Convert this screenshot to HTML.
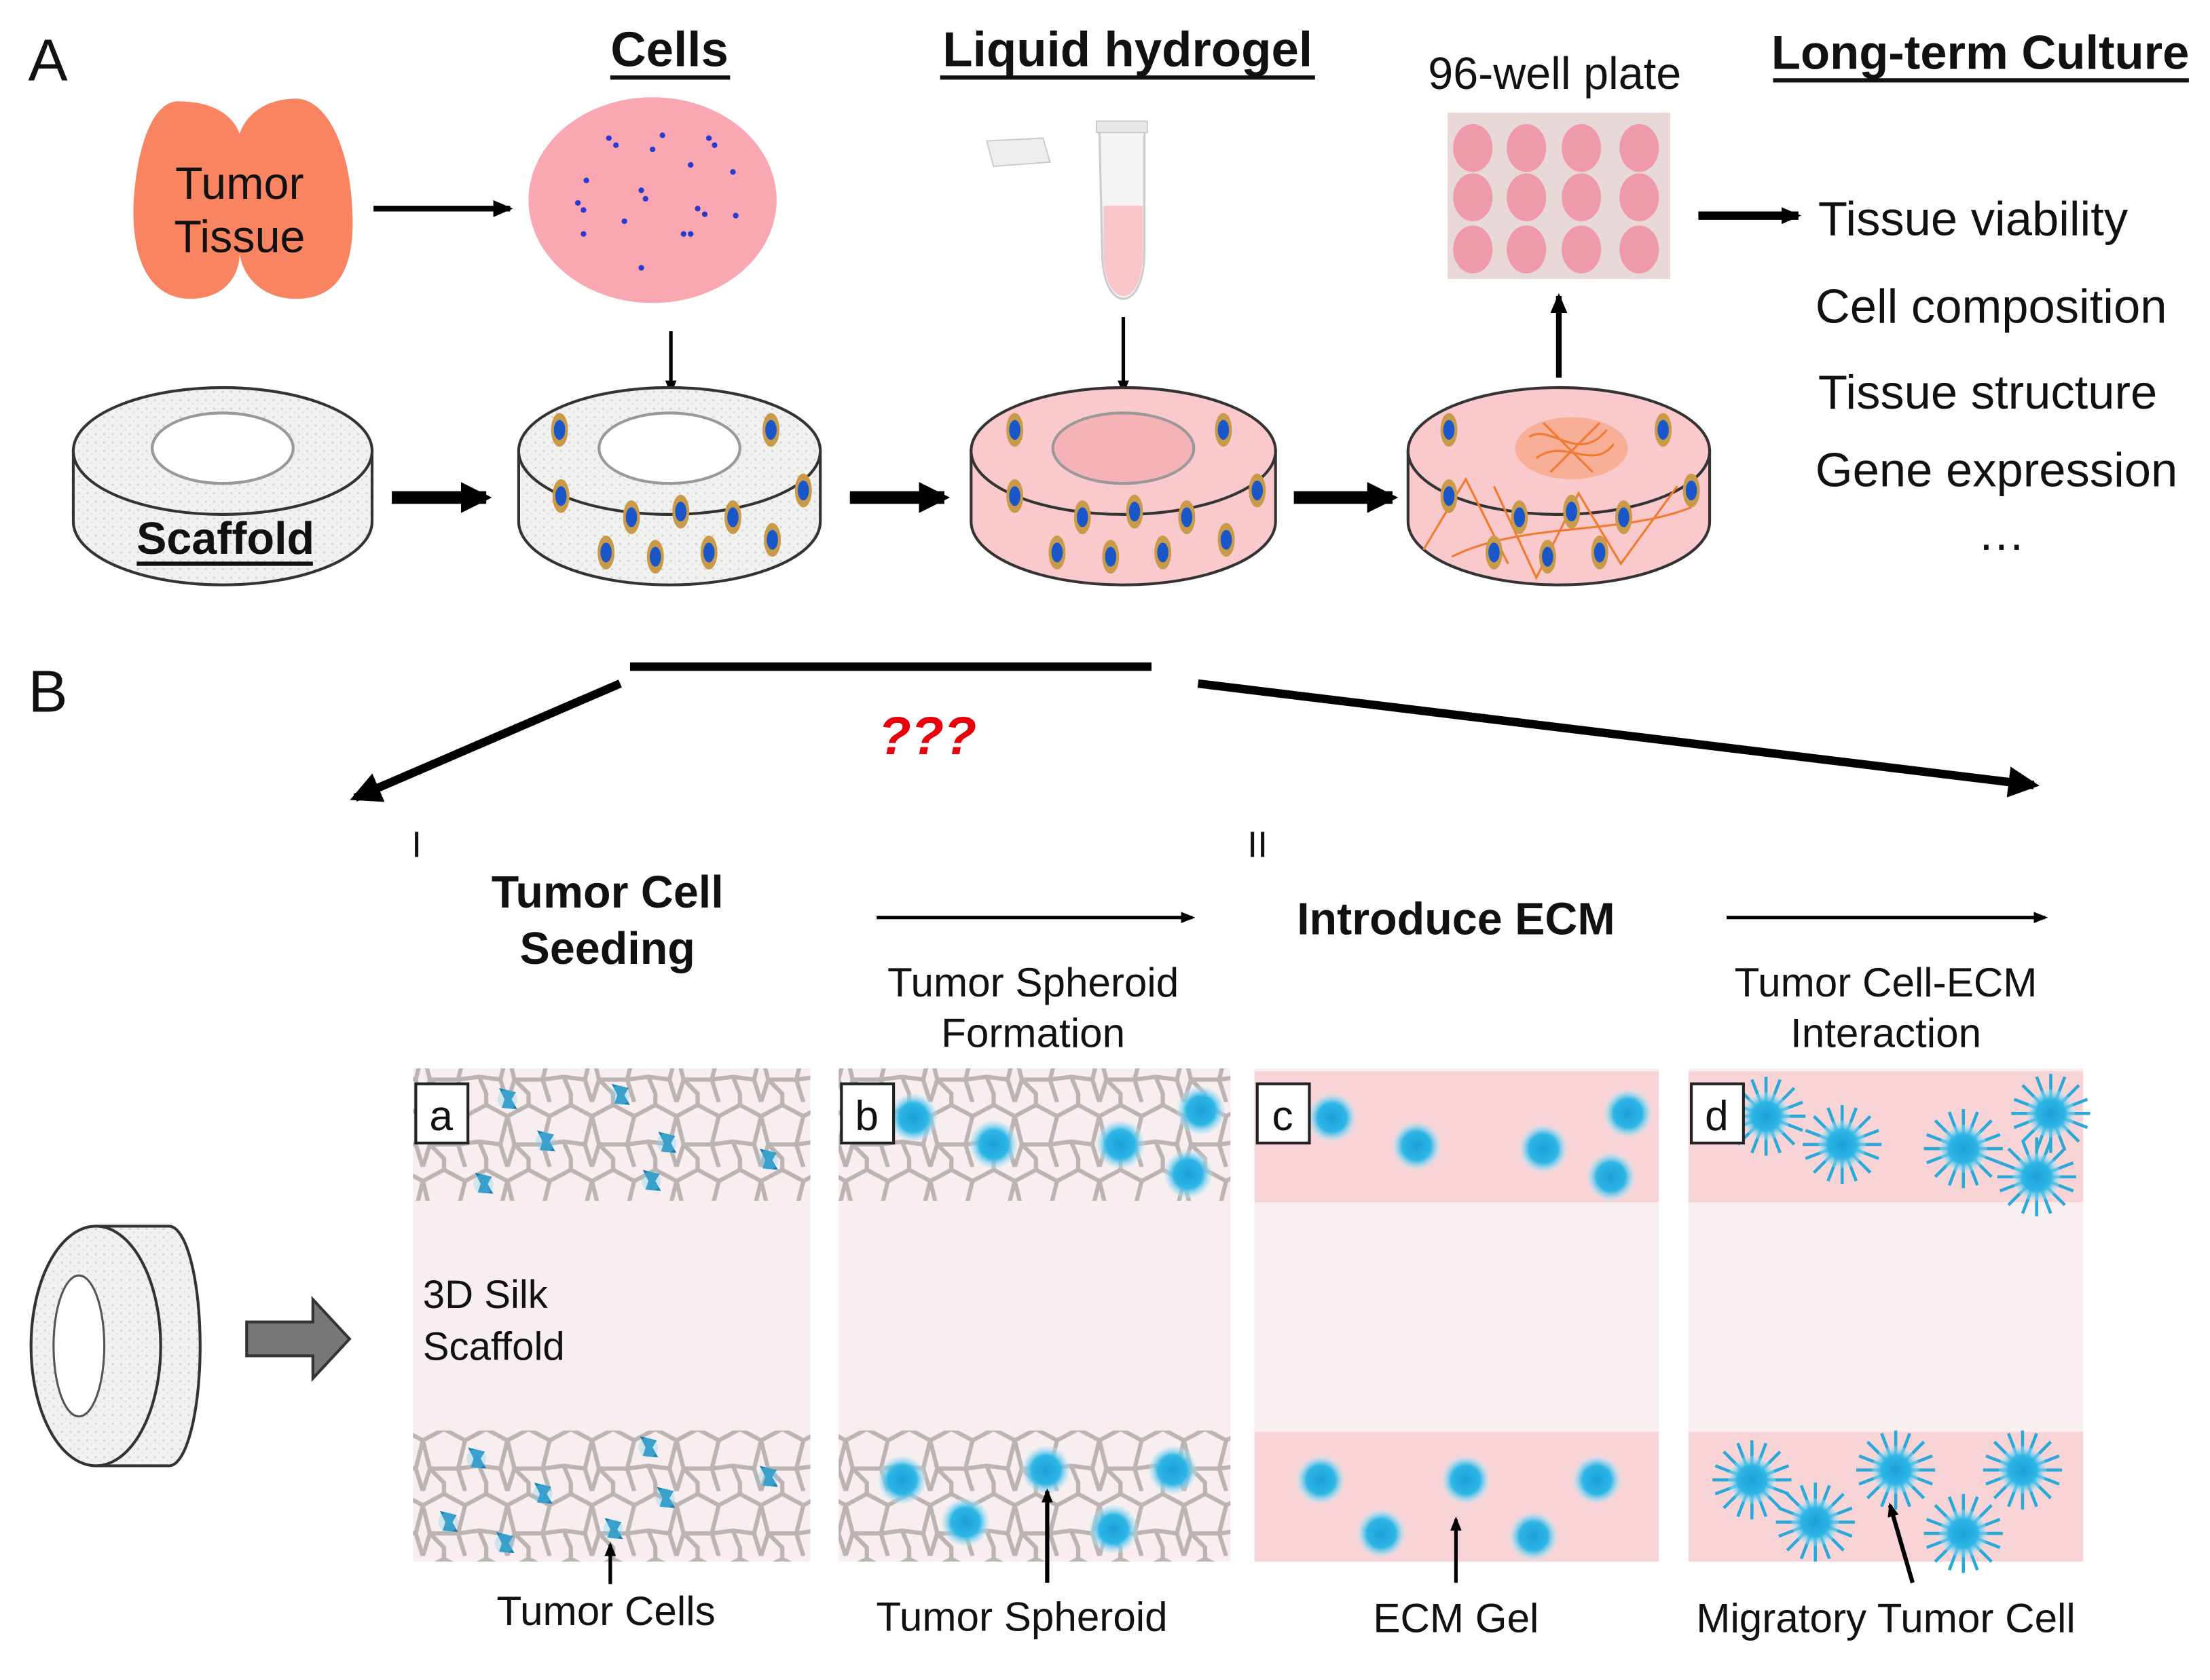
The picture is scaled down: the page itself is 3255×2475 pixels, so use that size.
<!DOCTYPE html>
<html><head><meta charset="utf-8"><style>
html,body{margin:0;padding:0;background:#fff;}
svg{display:block;}
text{font-family:"Liberation Sans",Arial,sans-serif;fill:#111;}
</style></head><body>
<svg width="3255" height="2475" viewBox="0 0 1568 1192" preserveAspectRatio="none" xmlns="http://www.w3.org/2000/svg">
<defs>
<marker id="ah" markerWidth="10" markerHeight="10" refX="8" refY="5" orient="auto" markerUnits="userSpaceOnUse"><path d="M0,1 L10,5 L0,9 Z" fill="#000"/></marker>
<marker id="ahs" markerWidth="14" markerHeight="14" refX="12" refY="7" orient="auto" markerUnits="userSpaceOnUse"><path d="M0,1 L14,7 L0,13 Z" fill="#000"/></marker>
<marker id="ahb" markerWidth="22" markerHeight="22" refX="18" refY="11" orient="auto" markerUnits="userSpaceOnUse"><path d="M0,0 L22,11 L0,22 Z" fill="#000"/></marker>
<radialGradient id="sph"><stop offset="0" stop-color="#1aa0d8"/><stop offset="0.6" stop-color="#2eb6e6"/><stop offset="1" stop-color="#bfeaf8" stop-opacity="0.3"/></radialGradient>
<pattern id="net" width="60" height="46" patternUnits="userSpaceOnUse">
<path d="M0,10 L15,2 L30,10 L45,2 L60,10 M15,2 L15,-10 M45,2 L45,-10 M0,10 L5,30 L0,46 M30,10 L25,30 L30,46 M60,10 L55,30 L60,46 M5,30 L25,30 M25,30 L40,28 L55,30 M15,46 L15,40 L5,30 M45,46 L45,40 L40,28" fill="none" stroke="#bcb3b3" stroke-width="3"/>
</pattern>
<pattern id="speck" width="6" height="6" patternUnits="userSpaceOnUse"><rect width="6" height="6" fill="#f1f1ef"/><circle cx="2" cy="2" r="0.8" fill="#d3d3d0"/><circle cx="5" cy="4.5" r="0.6" fill="#dcdcd9"/></pattern>
<g id="cc"><ellipse rx="6" ry="12" fill="#c89a4a"/><ellipse rx="4" ry="7" fill="#1a56c8"/></g>
<g id="sp"><circle r="17" fill="url(#sph)"/></g>
<g id="spk"><g stroke="#2aa8d8" stroke-width="2.2"><line x1="-28" y1="0" x2="28" y2="0"/><line x1="0" y1="-28" x2="0" y2="28"/><line x1="-20" y1="-20" x2="20" y2="20"/><line x1="-20" y1="20" x2="20" y2="-20"/><line x1="-26" y1="-10" x2="26" y2="10"/><line x1="-10" y1="-26" x2="10" y2="26"/><line x1="-26" y1="10" x2="26" y2="-10"/><line x1="10" y1="-26" x2="-10" y2="26"/></g><circle r="17" fill="url(#sph)"/></g>
<g id="tc"><path d="M-6,-8 L6,-5 L3,0 L7,7 L-4,6 L-2,0 Z" fill="#1583b8"/><circle r="7" fill="#7fd3ef" opacity="0.35"/></g>
</defs>

<!-- A -->
<text x="20" y="57" font-size="42">A</text>
<text x="475" y="47" font-size="35" font-weight="bold" text-anchor="middle">Cells</text>
<line x1="433" y1="55" x2="518" y2="55" stroke="#111" stroke-width="3"/>
<text x="800" y="47" font-size="35" font-weight="bold" text-anchor="middle">Liquid hydrogel</text>
<line x1="667" y1="55" x2="933" y2="55" stroke="#111" stroke-width="3"/>
<text x="1103" y="63" font-size="32" text-anchor="middle">96-well plate</text>
<text x="1405" y="49" font-size="34" font-weight="bold" text-anchor="middle">Long-term Culture</text>
<line x1="1258" y1="57" x2="1553" y2="57" stroke="#111" stroke-width="3"/>

<!-- tumor tissue -->
<path d="M128,72 C110,70 98,100 95,140 C92,190 110,212 135,212 C160,212 170,195 170,180 C172,195 185,212 210,212 C240,212 252,190 250,150 C248,100 230,70 210,70 C190,70 175,80 170,95 C165,80 148,72 128,72 Z" fill="#f88462"/>
<text x="170" y="141" font-size="32" text-anchor="middle">Tumor</text>
<text x="170" y="179" font-size="32" text-anchor="middle">Tissue</text>
<line x1="265" y1="148" x2="362" y2="148" stroke="#000" stroke-width="4" marker-end="url(#ahs)"/>

<!-- cells dish -->
<ellipse cx="463" cy="142" rx="88" ry="73" fill="#f9a7b1"/>
<g fill="#2a3ad0">
<circle cx="432" cy="98" r="2"/><circle cx="437" cy="103" r="2"/><circle cx="470" cy="96" r="2"/><circle cx="503" cy="98" r="2"/><circle cx="507" cy="103" r="2"/><circle cx="463" cy="106" r="2"/><circle cx="490" cy="117" r="2"/><circle cx="520" cy="122" r="2"/><circle cx="416" cy="128" r="2"/><circle cx="455" cy="135" r="2"/><circle cx="458" cy="141" r="2"/><circle cx="410" cy="144" r="2"/><circle cx="414" cy="149" r="2"/><circle cx="495" cy="148" r="2"/><circle cx="500" cy="152" r="2"/><circle cx="443" cy="157" r="2"/><circle cx="522" cy="153" r="2"/><circle cx="485" cy="166" r="2"/><circle cx="490" cy="166" r="2"/><circle cx="414" cy="166" r="2"/><circle cx="455" cy="190" r="2"/></g>

<!-- tube -->
<path d="M700,100 L740,98 L745,115 L705,118 Z" fill="#eee" stroke="#ccc"/>
<path d="M780,92 L812,92 L812,178 C812,200 805,212 797,212 C789,212 782,200 782,178 Z" fill="#f4f4f4" stroke="#ccc" stroke-width="1.5"/>
<path d="M783,146 L811,146 L811,178 C811,198 805,210 797,210 C789,210 783,198 783,178 Z" fill="#f9c5c8"/>
<rect x="778" y="86" width="36" height="8" fill="#e8e8e8" stroke="#ccc"/>

<!-- plate -->
<rect x="1027" y="80" width="158" height="118" fill="#e8d8d8"/>
<g fill="#ef9aaa">
<ellipse cx="1045" cy="105" rx="14" ry="17"/><ellipse cx="1083" cy="105" rx="14" ry="17"/><ellipse cx="1122" cy="105" rx="14" ry="17"/><ellipse cx="1163" cy="105" rx="14" ry="17"/>
<ellipse cx="1045" cy="140" rx="14" ry="17"/><ellipse cx="1083" cy="140" rx="14" ry="17"/><ellipse cx="1122" cy="140" rx="14" ry="17"/><ellipse cx="1163" cy="140" rx="14" ry="17"/>
<ellipse cx="1045" cy="177" rx="14" ry="17"/><ellipse cx="1083" cy="177" rx="14" ry="17"/><ellipse cx="1122" cy="177" rx="14" ry="17"/><ellipse cx="1163" cy="177" rx="14" ry="17"/></g>
<line x1="1205" y1="153" x2="1276" y2="153" stroke="#000" stroke-width="6" marker-end="url(#ahs)"/>

<g font-size="34">
<text x="1290" y="167">Tissue viability</text>
<text x="1288" y="229">Cell composition</text>
<text x="1290" y="290">Tissue structure</text>
<text x="1288" y="345">Gene expression</text>
<text x="1420" y="390" text-anchor="middle">…</text></g>

<line x1="476" y1="235" x2="476" y2="278" stroke="#000" stroke-width="2.5" marker-end="url(#ah)"/>
<line x1="797" y1="225" x2="797" y2="278" stroke="#000" stroke-width="2.5" marker-end="url(#ah)"/>
<line x1="1106" y1="268" x2="1106" y2="210" stroke="#000" stroke-width="4" marker-end="url(#ahs)"/>

<!-- cylinders -->
<g stroke="#333" stroke-width="2">
<path d="M52,320 L52,370 A106,45 0 0 0 264,370 L264,320 Z" fill="url(#speck)"/>
<ellipse cx="158" cy="320" rx="106" ry="45" fill="url(#speck)"/>
<ellipse cx="158" cy="318" rx="50" ry="25" fill="#fff" stroke="#999"/>
<path d="M368,320 L368,370 A107,45 0 0 0 582,370 L582,320 Z" fill="url(#speck)"/>
<ellipse cx="475" cy="320" rx="107" ry="45" fill="url(#speck)"/>
<ellipse cx="475" cy="318" rx="50" ry="25" fill="#fff" stroke="#999"/>
<path d="M689,320 L689,370 A108,45 0 0 0 905,370 L905,320 Z" fill="#f9c9cb"/>
<ellipse cx="797" cy="320" rx="108" ry="45" fill="#f9c9cb"/>
<ellipse cx="797" cy="318" rx="50" ry="25" fill="#f5b3b8" stroke="#999"/>
<path d="M999,320 L999,370 A107,45 0 0 0 1213,370 L1213,320 Z" fill="#f9c9cb"/>
<ellipse cx="1106" cy="320" rx="107" ry="45" fill="#f9c9cb"/>
</g>
<ellipse cx="1115" cy="318" rx="40" ry="22" fill="#f8a88a" opacity="0.8"/>
<g fill="none" stroke="#f07a30" stroke-width="1.5"><path d="M1085,310 C1100,300 1120,330 1140,305 M1090,325 C1110,310 1130,335 1145,315 M1095,300 L1130,335 M1100,335 L1135,300"/>
<path d="M1010,390 L1040,340 L1070,400 M1060,345 L1090,410 L1120,350 L1150,400 L1190,345 M1030,395 C1080,370 1150,380 1200,360"/></g>
<text x="160" y="393" font-size="32" font-weight="bold" text-anchor="middle">Scaffold</text>
<line x1="97" y1="400" x2="222" y2="400" stroke="#111" stroke-width="3"/>
<g>
<use href="#cc" x="397" y="305"/><use href="#cc" x="547" y="305"/><use href="#cc" x="398" y="352"/><use href="#cc" x="570" y="348"/><use href="#cc" x="448" y="367"/><use href="#cc" x="483" y="363"/><use href="#cc" x="520" y="367"/><use href="#cc" x="430" y="392"/><use href="#cc" x="465" y="395"/><use href="#cc" x="503" y="392"/><use href="#cc" x="548" y="383"/>
<use href="#cc" x="720" y="305"/><use href="#cc" x="868" y="305"/><use href="#cc" x="720" y="352"/><use href="#cc" x="892" y="348"/><use href="#cc" x="768" y="367"/><use href="#cc" x="805" y="363"/><use href="#cc" x="842" y="367"/><use href="#cc" x="750" y="392"/><use href="#cc" x="788" y="395"/><use href="#cc" x="825" y="392"/><use href="#cc" x="870" y="383"/>
<use href="#cc" x="1028" y="305"/><use href="#cc" x="1180" y="305"/><use href="#cc" x="1028" y="352"/><use href="#cc" x="1200" y="348"/><use href="#cc" x="1078" y="367"/><use href="#cc" x="1115" y="363"/><use href="#cc" x="1152" y="367"/><use href="#cc" x="1060" y="392"/><use href="#cc" x="1098" y="395"/><use href="#cc" x="1135" y="392"/></g>
<line x1="278" y1="353" x2="345" y2="353" stroke="#000" stroke-width="9" marker-end="url(#ahb)"/>
<line x1="603" y1="353" x2="670" y2="353" stroke="#000" stroke-width="9" marker-end="url(#ahb)"/>
<line x1="918" y1="353" x2="988" y2="353" stroke="#000" stroke-width="9" marker-end="url(#ahb)"/>

<!-- B -->
<text x="20" y="505" font-size="42">B</text>
<line x1="447" y1="473" x2="817" y2="473" stroke="#000" stroke-width="6"/>
<line x1="440" y1="485" x2="252" y2="566" stroke="#000" stroke-width="6" marker-end="url(#ahb)"/>
<line x1="850" y1="485" x2="1443" y2="557" stroke="#000" stroke-width="6" marker-end="url(#ahb)"/>
<text x="658" y="535" font-size="38" font-weight="bold" font-style="italic" text-anchor="middle" style="fill:#e8000a">???</text>
<text x="292" y="608" font-size="26">I</text>
<text x="885" y="608" font-size="26">II</text>
<text x="431" y="644" font-size="32" font-weight="bold" text-anchor="middle">Tumor Cell</text>
<text x="431" y="684" font-size="32" font-weight="bold" text-anchor="middle">Seeding</text>
<line x1="622" y1="651" x2="846" y2="651" stroke="#000" stroke-width="2.5" marker-end="url(#ah)"/>
<text x="733" y="707" font-size="29" text-anchor="middle">Tumor Spheroid</text>
<text x="733" y="743" font-size="29" text-anchor="middle">Formation</text>
<text x="1033" y="663" font-size="32" font-weight="bold" text-anchor="middle">Introduce ECM</text>
<line x1="1225" y1="651" x2="1451" y2="651" stroke="#000" stroke-width="2.5" marker-end="url(#ah)"/>
<text x="1338" y="707" font-size="29" text-anchor="middle">Tumor Cell-ECM</text>
<text x="1338" y="743" font-size="29" text-anchor="middle">Interaction</text>

<!-- side cylinder -->
<path d="M68,870 L120,870 A22,85 0 0 1 120,1040 L68,1040 Z" fill="url(#speck)" stroke="#333" stroke-width="2"/>
<ellipse cx="68" cy="955" rx="46" ry="85" fill="url(#speck)" stroke="#333" stroke-width="2"/>
<ellipse cx="56" cy="955" rx="18" ry="50" fill="#fff" stroke="#555" stroke-width="1.5"/>
<path d="M175,938 L222,938 L222,922 L248,950 L222,978 L222,962 L175,962 Z" fill="#777" stroke="#333" stroke-width="2"/>

<!-- panels -->
<rect x="293" y="758" width="282" height="350" fill="#f9eeef"/>
<rect x="293" y="758" width="282" height="94" fill="url(#net)"/>
<rect x="293" y="1015" width="282" height="93" fill="url(#net)"/>
<rect x="595" y="758" width="278" height="350" fill="#f9eeef"/>
<rect x="595" y="758" width="278" height="94" fill="url(#net)"/>
<rect x="595" y="1015" width="278" height="93" fill="url(#net)"/>
<rect x="890" y="758" width="287" height="350" fill="#f9eff0"/>
<rect x="890" y="760" width="287" height="93" fill="#f9d4d7"/>
<rect x="890" y="1016" width="287" height="92" fill="#f9d4d7"/>
<rect x="1198" y="758" width="280" height="350" fill="#f9eff0"/>
<rect x="1198" y="760" width="280" height="93" fill="#f9d4d7"/>
<rect x="1198" y="1016" width="280" height="92" fill="#f9d4d7"/>

<g><use href="#tc" x="360" y="780"/><use href="#tc" x="440" y="777"/><use href="#tc" x="387" y="810"/><use href="#tc" x="473" y="811"/><use href="#tc" x="545" y="823"/><use href="#tc" x="343" y="840"/><use href="#tc" x="462" y="838"/>
<use href="#tc" x="338" y="1035"/><use href="#tc" x="460" y="1027"/><use href="#tc" x="545" y="1048"/><use href="#tc" x="385" y="1060"/><use href="#tc" x="472" y="1063"/><use href="#tc" x="318" y="1080"/><use href="#tc" x="358" y="1095"/><use href="#tc" x="435" y="1085"/></g>
<g><use href="#sp" x="648" y="793"/><use href="#sp" x="705" y="812"/><use href="#sp" x="795" y="812"/><use href="#sp" x="852" y="788"/><use href="#sp" x="843" y="833"/>
<use href="#sp" x="640" y="1050"/><use href="#sp" x="742" y="1043"/><use href="#sp" x="832" y="1043"/><use href="#sp" x="685" y="1080"/><use href="#sp" x="790" y="1085"/>
<use href="#sp" x="945" y="793"/><use href="#sp" x="1005" y="813"/><use href="#sp" x="1095" y="815"/><use href="#sp" x="1155" y="790"/><use href="#sp" x="1143" y="835"/>
<use href="#sp" x="937" y="1050"/><use href="#sp" x="1040" y="1050"/><use href="#sp" x="1133" y="1050"/><use href="#sp" x="980" y="1088"/><use href="#sp" x="1088" y="1090"/>
<use href="#spk" x="1253" y="792"/><use href="#spk" x="1307" y="812"/><use href="#spk" x="1393" y="815"/><use href="#spk" x="1455" y="790"/><use href="#spk" x="1445" y="835"/>
<use href="#spk" x="1243" y="1050"/><use href="#spk" x="1345" y="1043"/><use href="#spk" x="1435" y="1043"/><use href="#spk" x="1288" y="1080"/><use href="#spk" x="1393" y="1088"/></g>

<g fill="#fff" stroke="#222" stroke-width="2">
<rect x="295" y="769" width="37" height="42"/><rect x="597" y="769" width="37" height="42"/><rect x="892" y="769" width="37" height="42"/><rect x="1200" y="769" width="37" height="42"/></g>
<g font-size="30" text-anchor="middle"><text x="313" y="802">a</text><text x="615" y="802">b</text><text x="910" y="802">c</text><text x="1218" y="802">d</text></g>
<text x="300" y="928" font-size="28">3D Silk</text>
<text x="300" y="965" font-size="28">Scaffold</text>

<line x1="433" y1="1124" x2="433" y2="1096" stroke="#000" stroke-width="2.5" marker-end="url(#ah)"/>
<line x1="743" y1="1123" x2="743" y2="1058" stroke="#000" stroke-width="3" marker-end="url(#ah)"/>
<line x1="1033" y1="1123" x2="1033" y2="1078" stroke="#000" stroke-width="2.5" marker-end="url(#ah)"/>
<line x1="1357" y1="1123" x2="1341" y2="1068" stroke="#000" stroke-width="3" marker-end="url(#ah)"/>
<g font-size="29" text-anchor="middle"><text x="430" y="1153">Tumor Cells</text><text x="725" y="1157">Tumor Spheroid</text><text x="1033" y="1158">ECM Gel</text><text x="1338" y="1158">Migratory Tumor Cell</text></g>
</svg>
</body></html>
